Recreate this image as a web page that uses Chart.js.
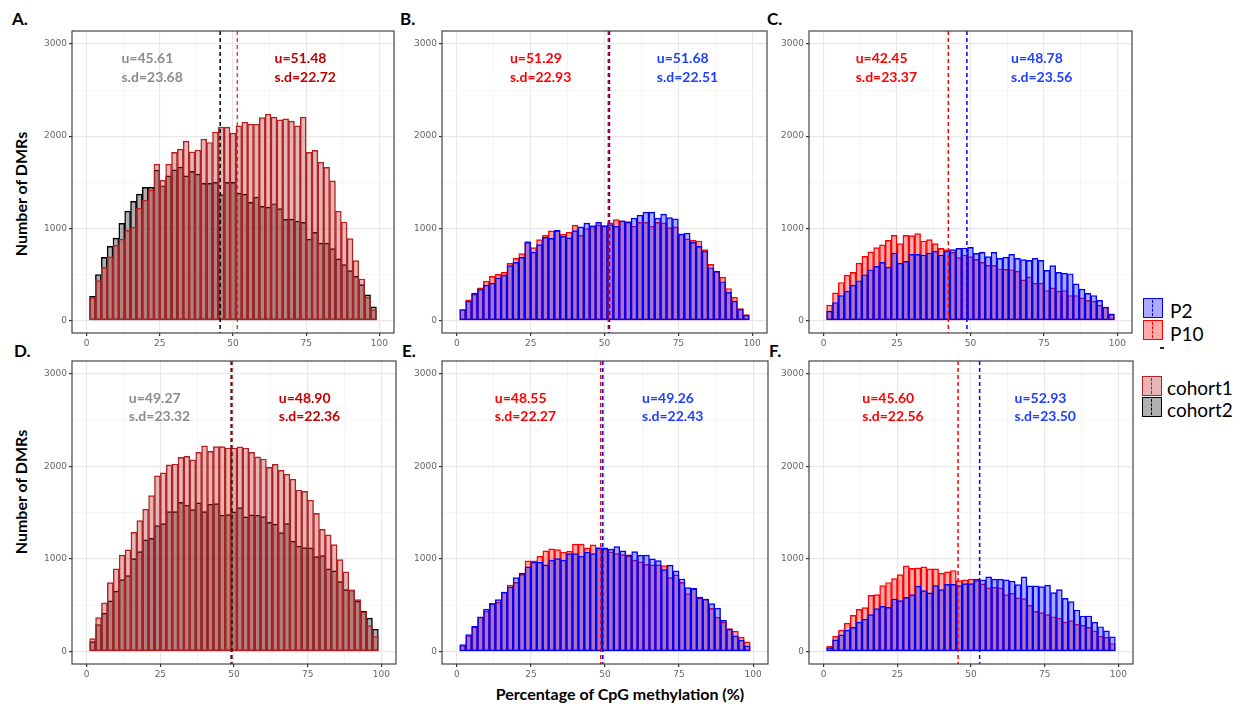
<!DOCTYPE html>
<html>
<head>
<meta charset="utf-8">
<script src="https://cdn.jsdelivr.net/npm/chart.js@4.4.0/dist/chart.umd.min.js"></script>
<style>
html,body{margin:0;padding:0;background:#fff;}
body{width:1250px;height:704px;position:relative;overflow:hidden;font-family:Lato,"Liberation Sans",sans-serif;}
canvas.cv{position:absolute;}
.plab{position:absolute;font-weight:bold;font-size:17px;line-height:17px;color:#000;}
.ylab{position:absolute;font-weight:bold;font-size:16px;line-height:16px;white-space:nowrap;transform:translate(-50%,-50%) rotate(-90deg);}
.xlab{position:absolute;font-weight:bold;font-size:16px;line-height:16px;white-space:nowrap;transform:translate(-50%,-50%);}
.key{position:absolute;width:18px;height:18px;border:1.5px solid;}
.dash{position:absolute;left:8px;top:1px;bottom:1px;border-left:1.5px dashed;}
.ltxt{position:absolute;font-size:19px;line-height:19px;color:#000;white-space:nowrap;}
</style>
</head>
<body>

<div class="plab" style="left:12px;top:10px;">A.</div>
<div class="plab" style="left:400px;top:10px;">B.</div>
<div class="plab" style="left:767px;top:10px;">C.</div>
<div class="plab" style="left:14px;top:342px;">D.</div>
<div class="plab" style="left:402px;top:342px;">E.</div>
<div class="plab" style="left:769px;top:342px;">F.</div>

<div class="ylab" style="left:21px;top:194px;">Number of DMRs</div>
<div class="ylab" style="left:21px;top:492px;">Number of DMRs</div>
<div class="xlab" style="left:620px;top:694px;">Percentage of CpG methylation (%)</div>

<div class="key" style="left:1143px;top:298px;background:rgba(0,0,255,0.33);border-color:#0000ff;"><div class="dash" style="border-left-color:#0000ff;"></div></div>
<div class="key" style="left:1143px;top:320px;background:rgba(255,0,0,0.33);border-color:#ff0000;"><div class="dash" style="border-left-color:#ff0000;"></div></div>
<div class="ltxt" style="left:1170px;top:301px;">P2</div>
<div class="ltxt" style="left:1170px;top:324px;">P10</div>
<div style="position:absolute;left:1160px;top:347px;width:4px;height:1.5px;background:#222;"></div>

<div class="key" style="left:1142px;top:376px;background:rgba(178,34,34,0.33);border-color:#b22222;"><div class="dash" style="border-left-color:#b22222;"></div></div>
<div class="key" style="left:1142px;top:397px;background:rgba(0,0,0,0.31);border-color:#000;"><div class="dash" style="border-left-color:#000;"></div></div>
<div class="ltxt" style="left:1167px;top:378px;">cohort1</div>
<div class="ltxt" style="left:1167px;top:400px;">cohort2</div>

<canvas class="cv" id="cA"></canvas>
<canvas class="cv" id="cB"></canvas>
<canvas class="cv" id="cC"></canvas>
<canvas class="cv" id="cD"></canvas>
<canvas class="cv" id="cE"></canvas>
<canvas class="cv" id="cF"></canvas>

<script>
// ---------- DATA ----------
const binCenters = [2,4,6,8,10,12,14,16,18,20,22,24,26,28,30,32,34,36,38,40,42,44,46,48,50,52,54,56,58,60,62,64,66,68,70,72,74,76,78,80,82,84,86,88,90,92,94,96,98];
const xTickLabels = [0,25,50,75,100];
const xGridValues = [0,12.5,25,37.5,50,62.5,75,87.5,100];
const yTickLabels = [0,1000,2000,3000];
const yGridValues = [0,500,1000,1500,2000,2500,3000];

// Panel A (cohorts)
const aCohort1 = [250,433,578,690,816,884,978,1014,1220,1307,1415,1697,1523,1697,1823,1859,1946,1830,1848,1968,1931,2043,2097,2097,2032,2112,2152,2130,2130,2202,2238,2206,2177,2188,2162,2112,2206,1823,1845,1718,1661,1516,1188,1069,888,650,451,253,119];
const aCohort2 = [264,498,686,805,895,1054,1188,1292,1372,1444,1444,1630,1462,1570,1635,1664,1570,1617,1588,1487,1487,1498,1365,1498,1498,1383,1372,1282,1339,1238,1231,1267,1213,1097,1101,1079,1065,884,957,841,841,780,668,606,542,480,390,278,148];
const aMeans = [51.48, 45.61];   // cohort1, cohort2
const aSds   = [22.72, 23.68];

// Panel B (P2 / P10)
const bP2  = [120,210,297,341,384,406,464,493,595,631,685,849,743,823,903,892,979,914,896,976,1016,1056,1023,1066,1026,1040,1023,1081,1074,1110,1143,1175,1175,1110,1154,1117,1103,936,947,849,805,754,573,537,421,305,210,123,58];
const bP10 = [120,225,283,355,428,479,500,522,620,675,725,856,791,878,925,972,972,936,958,1034,925,997,1030,1037,1030,1060,1095,1081,1066,1023,1066,1066,1023,1066,1059,1008,1016,940,885,870,863,769,609,530,471,348,254,131,65];
const bMeans = [51.68, 51.29];   // P2, P10
const bSds   = [22.51, 22.93];

// Panel C
const cP2  = [102,196,272,319,384,432,497,551,588,631,580,733,624,642,718,718,711,733,754,711,754,769,783,787,794,729,740,693,740,675,689,718,675,660,653,675,653,544,595,522,515,508,399,341,294,272,218,145,73];
const cP10 = [167,301,413,493,522,624,696,744,791,820,870,925,834,925,921,943,863,878,834,783,769,740,682,711,693,664,631,598,598,562,555,551,537,442,475,406,406,326,355,319,326,272,272,247,218,210,167,145,65];
const cMeans = [48.78, 42.45];
const cSds   = [23.56, 23.37];

// Panel D (cohorts)
const dCohort1 = [140,367,526,745,893,1041,1098,1289,1415,1538,1685,1898,1930,2017,2027,2099,2110,2071,2153,2222,2164,2215,2215,2200,2200,2211,2200,2153,2103,2081,1991,2024,1959,1916,1862,1746,1732,1635,1494,1321,1260,1156,994,861,666,562,429,281,162];
const dCohort2 = [108,292,414,547,652,778,821,1005,1080,1206,1224,1361,1383,1512,1512,1613,1581,1534,1606,1512,1592,1599,1473,1480,1509,1556,1455,1476,1473,1458,1397,1376,1286,1383,1192,1138,1124,1120,1026,1037,893,871,756,670,663,544,436,360,241];
const dMeans = [48.90, 49.27];
const dSds   = [22.36, 23.32];

// Panel E
const eP2  = [76,184,271,376,459,517,560,643,698,799,849,914,965,965,936,987,1005,987,1059,1059,1030,1073,1059,1117,1120,1106,1135,1088,1044,1081,1041,1041,1001,983,885,933,871,784,690,683,589,567,517,470,336,242,170,123,61];
const eP10 = [65,173,264,372,437,520,535,643,719,748,835,979,979,1030,1088,1110,1102,1073,1084,1160,1160,1120,1153,1124,1106,1077,1059,1048,1030,987,969,943,936,936,929,799,828,748,625,676,578,567,466,372,318,249,220,155,105];
const eMeans = [49.26, 48.55];
const eSds   = [22.43, 22.27];

// Panel F
const fP2  = [43,127,181,232,261,318,351,398,463,489,478,568,550,586,615,706,659,633,713,670,727,727,713,735,735,782,775,807,782,782,775,760,724,807,709,709,702,717,637,670,575,539,449,384,384,318,268,224,159];
const fP10 = [58,163,232,308,391,456,474,608,615,713,746,789,832,926,898,905,916,894,894,847,861,876,767,775,782,767,731,688,695,688,615,630,579,572,499,434,420,398,376,362,318,333,297,282,261,224,166,152,87];
const fMeans = [52.93, 45.60];
const fSds   = [23.50, 22.56];

// ---------- STYLE ----------
const STY = {
  cohort1: {bg:'rgba(178,34,34,0.33)', border:'#b22222', line:'rgba(178,34,34,0.8)', text:'#c00000'},
  cohort2: {bg:'rgba(0,0,0,0.31)', border:'#000000', line:'#000000', text:'#8c8c8c'},
  P2:  {bg:'rgba(0,0,255,0.33)', border:'#0000ff', line:'#0000ff', text:'#1f3fff'},
  P10: {bg:'rgba(255,0,0,0.33)', border:'#ff0000', line:'#ff0000', text:'#ff0000'}
};

const boxes = {
  A:{l:72,t:31,r:394,b:333}, B:{l:442,t:31,r:767,b:333}, C:{l:809,t:31,r:1132,b:333},
  D:{l:72,t:361,r:396,b:664}, E:{l:442,t:361,r:768,b:664}, F:{l:809,t:361,r:1133,b:664}
};
const YAXW = 42, XAXH = 22, PADT = 8, PADR = 10;

const panelExtras = {
  id:'panelExtras',
  afterDatasetsDraw(chart, args, opts){
    const ctx = chart.ctx, ca = chart.chartArea, xs = chart.scales.x, ys = chart.scales.y;
    ctx.save();
    ctx.beginPath(); ctx.rect(ca.left, ca.top, ca.width, ca.height); ctx.clip();
    ctx.lineWidth = 1.5; ctx.setLineDash([4,3]);
    opts.lines.forEach(l => {
      const px = xs.getPixelForValue(l.value);
      ctx.strokeStyle = l.color;
      ctx.beginPath(); ctx.moveTo(px, ca.top); ctx.lineTo(px, ca.bottom); ctx.stroke();
    });
    ctx.restore();
    ctx.save();
    ctx.font = 'bold 14px Lato, "Liberation Sans", sans-serif';
    ctx.textAlign = 'left'; ctx.textBaseline = 'middle';
    opts.texts.forEach(t => {
      ctx.fillStyle = t.color;
      const px = xs.getPixelForValue(t.x);
      ctx.fillText('u=' + t.mean.toFixed(2), px, ys.getPixelForValue(t.y1));
      ctx.fillText('s.d=' + t.sd.toFixed(2), px, ys.getPixelForValue(t.y2));
    });
    ctx.restore();
  },
  afterDraw(chart){
    const ctx = chart.ctx, ca = chart.chartArea;
    ctx.save();
    ctx.strokeStyle = '#444'; ctx.lineWidth = 1.2;
    ctx.strokeRect(ca.left, ca.top, ca.width, ca.height);
    ctx.restore();
  }
};

function pts(vals){ return vals.map((v,i)=>({x:binCenters[i], y:v})); }

function makePanel(id, key, series, lines, texts){
  const b = boxes[key];
  const cv = document.getElementById(id);
  const w = YAXW + (b.r - b.l) + PADR, h = PADT + (b.b - b.t) + XAXH;
  cv.width = w; cv.height = h;
  cv.style.left = (b.l - YAXW) + 'px'; cv.style.top = (b.t - PADT) + 'px';
  cv.style.width = w + 'px'; cv.style.height = h + 'px';
  const datasets = series.map(s => ({
    data: pts(s.values),
    backgroundColor: STY[s.grp].bg,
    borderColor: STY[s.grp].border,
    borderWidth: 0.8,
    borderSkipped: false,
    barPercentage: 1, categoryPercentage: 1, grouped: false
  }));
  new Chart(cv, {
    type:'bar',
    data:{datasets},
    plugins:[panelExtras],
    options:{
      responsive:false, animation:false, events:[], devicePixelRatio:1,
      layout:{padding:{top:PADT, right:PADR, left:0, bottom:0}},
      plugins:{legend:{display:false}, tooltip:{enabled:false},
        panelExtras:{lines, texts}},
      scales:{
        x:{type:'linear', min:-5, max:105, offset:false,
          afterBuildTicks(s){ s.ticks = xGridValues.map(v => ({value:v})); },
          afterFit(s){ s.height = XAXH; },
          border:{display:false},
          grid:{offset:false, drawTicks:true, tickLength:3,
            color: c => (c.tick && xTickLabels.includes(c.tick.value)) ? '#e8e8e8' : '#f2f2f2',
            lineWidth: c => (c.tick && xTickLabels.includes(c.tick.value)) ? 1.2 : 0.8,
            tickColor: c => (c.tick && xTickLabels.includes(c.tick.value)) ? '#333' : 'rgba(0,0,0,0)'},
          ticks:{autoSkip:false, maxRotation:0, minRotation:0, padding:2,
            color:'#666', font:{family:'DejaVu Sans', size:9},
            callback: v => xTickLabels.includes(v) ? String(v) : ''}
        },
        y:{type:'linear', min:-135, max:3140,
          afterBuildTicks(s){ s.ticks = yGridValues.map(v => ({value:v})); },
          afterFit(s){ s.width = YAXW; },
          border:{display:false},
          grid:{drawTicks:true, tickLength:3,
            color: c => (c.tick && yTickLabels.includes(c.tick.value)) ? '#e8e8e8' : '#f2f2f2',
            lineWidth: c => (c.tick && yTickLabels.includes(c.tick.value)) ? 1.2 : 0.8,
            tickColor: c => (c.tick && yTickLabels.includes(c.tick.value)) ? '#333' : 'rgba(0,0,0,0)'},
          ticks:{autoSkip:false, padding:2,
            color:'#666', font:{family:'DejaVu Sans', size:9},
            callback: v => yTickLabels.includes(v) ? String(v) : ''}
        }
      }
    }
  });
}

// Panel A
makePanel('cA','A',
  [{grp:'cohort1', values:aCohort1},{grp:'cohort2', values:aCohort2}],
  [{value:aMeans[1], color:STY.cohort2.line},{value:aMeans[0], color:STY.cohort1.line}],
  [{x:11.9, y1:2838, y2:2632, mean:aMeans[1], sd:aSds[1], color:STY.cohort2.text},
   {x:64.2, y1:2838, y2:2632, mean:aMeans[0], sd:aSds[0], color:STY.cohort1.text}]);
// Panel B
makePanel('cB','B',
  [{grp:'P2', values:bP2},{grp:'P10', values:bP10}],
  [{value:bMeans[1], color:STY.P10.line},{value:bMeans[0], color:STY.P2.line}],
  [{x:18.0, y1:2838, y2:2632, mean:bMeans[1], sd:bSds[1], color:STY.P10.text},
   {x:67.7, y1:2838, y2:2632, mean:bMeans[0], sd:bSds[0], color:STY.P2.text}]);
// Panel C
makePanel('cC','C',
  [{grp:'P2', values:cP2},{grp:'P10', values:cP10}],
  [{value:cMeans[1], color:STY.P10.line},{value:cMeans[0], color:STY.P2.line}],
  [{x:10.9, y1:2838, y2:2632, mean:cMeans[1], sd:cSds[1], color:STY.P10.text},
   {x:63.8, y1:2838, y2:2632, mean:cMeans[0], sd:cSds[0], color:STY.P2.text}]);
// Panel D
makePanel('cD','D',
  [{grp:'cohort1', values:dCohort1},{grp:'cohort2', values:dCohort2}],
  [{value:dMeans[1], color:STY.cohort2.line},{value:dMeans[0], color:STY.cohort1.line}],
  [{x:14.3, y1:2740, y2:2535, mean:dMeans[1], sd:dSds[1], color:STY.cohort2.text},
   {x:65.2, y1:2740, y2:2535, mean:dMeans[0], sd:dSds[0], color:STY.cohort1.text}]);
// Panel E
makePanel('cE','E',
  [{grp:'P2', values:eP2},{grp:'P10', values:eP10}],
  [{value:eMeans[1], color:STY.P10.line},{value:eMeans[0], color:STY.P2.line}],
  [{x:12.8, y1:2740, y2:2535, mean:eMeans[1], sd:eSds[1], color:STY.P10.text},
   {x:62.5, y1:2740, y2:2535, mean:eMeans[0], sd:eSds[0], color:STY.P2.text}]);
// Panel F
makePanel('cF','F',
  [{grp:'P2', values:fP2},{grp:'P10', values:fP10}],
  [{value:fMeans[1], color:STY.P10.line},{value:fMeans[0], color:STY.P2.line}],
  [{x:13.1, y1:2740, y2:2535, mean:fMeans[1], sd:fSds[1], color:STY.P10.text},
   {x:64.8, y1:2740, y2:2535, mean:fMeans[0], sd:fSds[0], color:STY.P2.text}]);
</script>
</body>
</html>
